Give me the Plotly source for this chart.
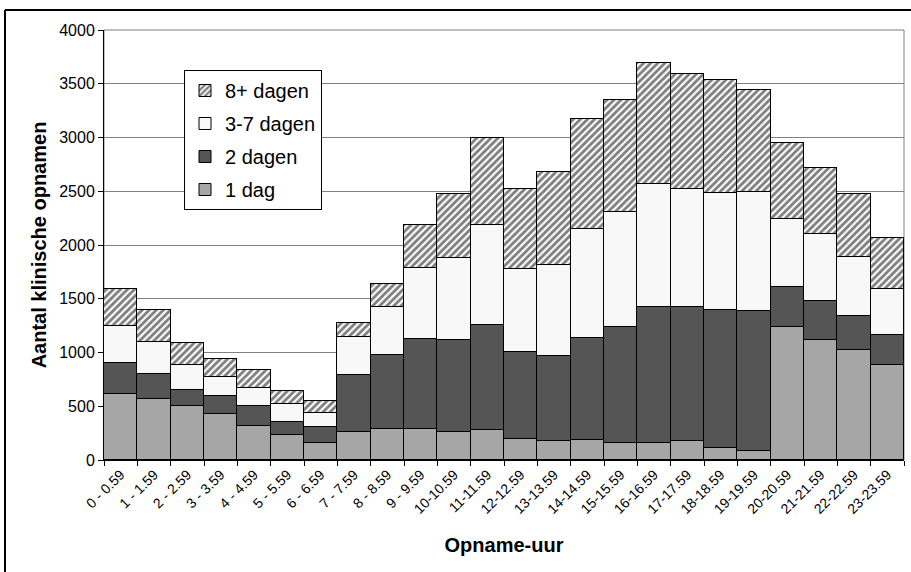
import plotly.graph_objects as go

# Admission hour categories
hours = ["0 - 0.59", "1 - 1.59", "2 - 2.59", "3 - 3.59", "4 - 4.59", "5 - 5.59",
         "6 - 6.59", "7 - 7.59", "8 - 8.59", "9 - 9.59", "10-10.59", "11-11.59",
         "12-12.59", "13-13.59", "14-14.59", "15-15.59", "16-16.59", "17-17.59",
         "18-18.59", "19-19.59", "20-20.59", "21-21.59", "22-22.59", "23-23.59"]

# Number of admissions per length-of-stay class
dag_1 = [610, 565, 500, 425, 315, 230, 160, 260, 285, 285, 265, 275,
         200, 175, 185, 160, 155, 175, 115, 85, 1240, 1120, 1025, 880]
dagen_2 = [290, 235, 150, 170, 185, 120, 145, 535, 690, 845, 850, 985,
           805, 790, 950, 1080, 1270, 1245, 1285, 1305, 370, 360, 310, 280]
dagen_3_7 = [350, 300, 230, 175, 170, 175, 135, 345, 445, 660, 765, 925,
             770, 850, 1010, 1070, 1140, 1105, 1085, 1105, 635, 625, 555, 435]
dagen_8 = [340, 300, 205, 170, 165, 115, 105, 135, 215, 395, 595, 815,
           745, 865, 1025, 1035, 1125, 1065, 1050, 945, 705, 615, 585, 470]

y_ticks = [0, 500, 1000, 1500, 2000, 2500, 3000, 3500, 4000]

FONT = "Arial, 'Liberation Sans', sans-serif"
outline = dict(color="black", width=1)

fig = go.Figure()
fig.add_trace(go.Bar(name="1 dag", x=hours, y=dag_1, legendgroup="a", legendrank=4,
                     marker=dict(color="#a6a6a6", line=outline)))
fig.add_trace(go.Bar(name="2 dagen", x=hours, y=dagen_2, legendgroup="b", legendrank=3,
                     marker=dict(color="#555555", line=outline)))
fig.add_trace(go.Bar(name="3-7 dagen", x=hours, y=dagen_3_7, legendgroup="c", legendrank=2,
                     marker=dict(color="#f8f8f8", line=outline)))
fig.add_trace(go.Bar(name="8+ dagen", x=hours, y=dagen_8, legendgroup="d", legendrank=1,
                     marker=dict(color="white", line=outline,
                                 pattern=dict(shape="/", fgcolor="black", bgcolor="white",
                                              size=5, solidity=0.58))))

fig.update_layout(
    width=911, height=572,
    barmode="stack", bargap=0,
    margin=dict(l=104, r=7, t=30, b=112),
    paper_bgcolor="white", plot_bgcolor="white",
    font=dict(family=FONT, color="black", size=13),
    showlegend=True,
    legend=dict(x=0.1, y=0.907, xanchor="left", yanchor="top",
                traceorder="grouped", tracegroupgap=4,
                bgcolor="white", bordercolor="black", borderwidth=1,
                font=dict(family=FONT, size=20, color="black")),
    xaxis=dict(title=dict(text="<b>Opname-uur</b>", font=dict(size=20), standoff=22),
               tickangle=-45, tickson="boundaries", ticks="outside", ticklen=5,
               tickcolor="black", showline=True, linecolor="black", linewidth=1,
               showgrid=False, tickfont=dict(size=14)),
    yaxis=dict(title=dict(text="<b>Aantal klinische opnamen</b>", font=dict(size=20), standoff=7),
               range=[0, 4000], tickvals=y_ticks, ticks="outside", ticklen=5,
               tickcolor="black", showline=True, linecolor="black", linewidth=1,
               showgrid=True, gridcolor="#808080", gridwidth=1, zeroline=False,
               tickfont=dict(size=16)),
    shapes=[
        # gray frame around the plot area
        dict(type="rect", xref="paper", yref="paper", x0=0, y0=0, x1=1, y1=1,
             line=dict(color="#808080", width=1), layer="below"),
        # outer chart frame (top and left edges)
        dict(type="line", xref="paper", yref="paper", x0=-0.12375, y0=1.0465,
             x1=1.05, y1=1.0465, line=dict(color="black", width=2)),
        dict(type="line", xref="paper", yref="paper", x0=-0.12375, y0=1.0465,
             x1=-0.12375, y1=-0.3, line=dict(color="black", width=2)),
    ],
)

fig.write_html("out.html")
